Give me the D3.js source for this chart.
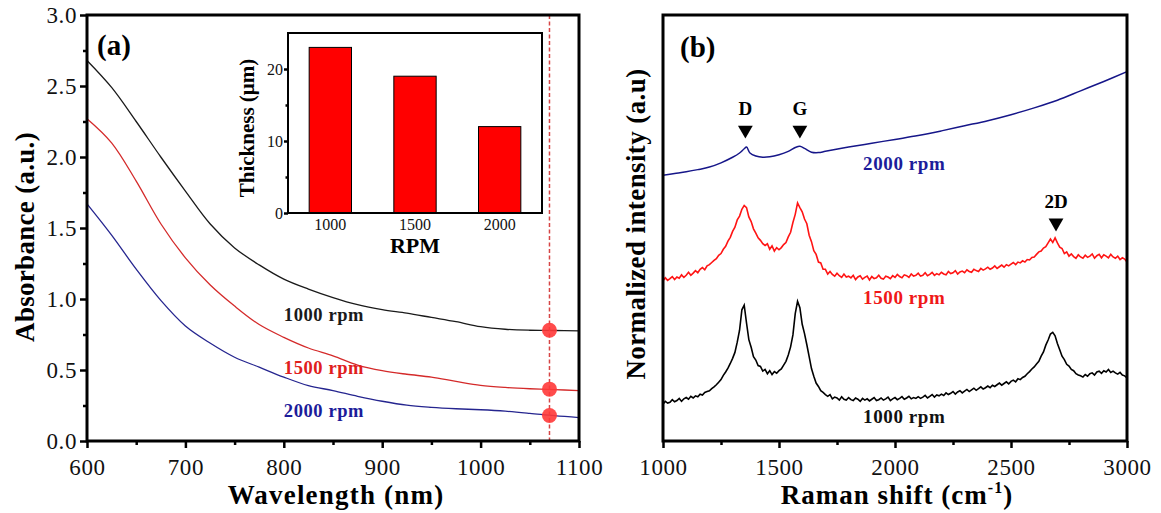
<!DOCTYPE html>
<html>
<head>
<meta charset="utf-8">
<script src="https://cdn.jsdelivr.net/npm/d3@7/dist/d3.min.js"></script>
<style>
body { margin: 0; background: #fff; }
svg { display: block; font-family: "Liberation Serif", "Times New Roman", serif; }
</style>
</head>
<body>
<script>
/** panel (a): absorbance spectra **/
var wavelength = [600, 625, 650, 675, 700, 725, 750, 775, 800, 825, 850, 875, 900, 925, 950, 975, 1000, 1025, 1050, 1075, 1100];
var abs1000 = [2.68, 2.49, 2.25, 2.00, 1.76, 1.53, 1.36, 1.24, 1.14, 1.07, 1.01, 0.96, 0.925, 0.90, 0.87, 0.84, 0.805, 0.787, 0.78, 0.778, 0.775];
var abs1500 = [2.27, 2.10, 1.83, 1.53, 1.29, 1.10, 0.95, 0.82, 0.73, 0.655, 0.60, 0.535, 0.495, 0.47, 0.45, 0.42, 0.392, 0.377, 0.368, 0.362, 0.355];
var abs2000 = [1.67, 1.45, 1.21, 0.99, 0.81, 0.69, 0.59, 0.52, 0.45, 0.39, 0.355, 0.315, 0.28, 0.252, 0.237, 0.227, 0.22, 0.21, 0.195, 0.178, 0.165];
var markerWavelength = 1070;
var markerAbs = [0.78, 0.365, 0.18];

/** inset: film thickness **/
var rpm = ["1000", "1500", "2000"];
var thickness = [23, 19, 12];

/** panel (b): raman spectra, sampled every 10 cm-1 from 1000 **/
var ramanStart = 1000, ramanStep = 10;
var raman1500 = [
  37.6, 38.3, 37.7, 38.1, 38.6, 37.9, 38.5, 38.2, 39.0, 38.4,
  38.9, 39.6, 38.9, 39.4, 40.0, 39.5, 40.3, 40.7, 40.2, 41.1,
  41.4, 41.9, 42.4, 42.8, 43.6, 44.0, 45.0, 45.7, 46.9, 47.8,
  49.2, 50.2, 51.9, 52.8, 54.4, 55.3, 54.8, 52.6, 51.5, 49.8,
  48.8, 47.7, 47.1, 46.3, 45.9, 46.3, 45.0, 45.8, 44.6, 45.4,
  44.9, 45.4, 46.1, 46.6, 47.9, 49.0, 51.3, 53.2, 55.9, 54.8,
  53.8, 52.1, 51.0, 48.3, 46.8, 44.7, 43.8, 42.0, 41.8, 40.3,
  40.3, 39.2, 39.8, 39.1, 38.7, 39.4, 38.8, 38.4, 39.2, 38.5,
  38.7, 38.3, 38.9, 37.9, 38.5, 38.8, 38.0, 38.4, 38.7, 37.8,
  38.6, 38.1, 38.3, 38.9, 38.2, 38.0, 38.7, 38.5, 38.1, 38.8,
  38.4, 39.1, 38.6, 38.3, 39.0, 38.8, 38.4, 39.2, 38.7, 38.9,
  39.4, 38.7, 38.9, 39.5, 38.8, 39.1, 39.6, 38.9, 39.3, 39.0,
  39.6, 39.2, 39.0, 39.8, 39.3, 39.5, 40.0, 39.2, 39.7, 39.9,
  39.5, 40.2, 39.8, 39.6, 40.3, 40.0, 39.8, 40.5, 40.1, 40.4,
  40.8, 40.3, 40.6, 41.1, 40.5, 40.9, 41.3, 40.8, 41.4, 41.1,
  41.5, 41.9, 41.4, 42.0, 41.8, 42.3, 42.0, 42.6, 42.5, 43.1,
  43.2, 43.8, 44.4, 44.6, 45.3, 45.6, 46.5, 47.4, 46.6, 47.7,
  46.5, 45.5, 45.2, 44.0, 44.4, 43.4, 43.9, 43.3, 42.9, 43.7,
  43.2, 42.9, 43.6, 43.1, 43.4, 43.9, 42.9, 43.5, 43.8, 43.0,
  43.7, 43.4, 43.0, 43.8, 43.2, 42.9, 43.4, 42.6, 43.0, 42.7,
  42.0
];
var raman1000 = [
  8.6, 9.3, 8.9, 9.1, 9.7, 9.2, 9.5, 10.0, 9.3, 9.9,
  10.2, 9.8, 10.5, 10.1, 10.6, 10.4, 11.0, 10.8, 11.4, 11.6,
  11.8, 12.3, 12.7, 13.2, 13.8, 14.4, 15.4, 16.2, 17.1, 18.2,
  19.4, 20.8, 23.2, 26.0, 30.8, 31.9, 27.7, 23.8, 22.0, 19.8,
  19.0, 17.7, 17.5, 16.4, 16.8, 15.8, 16.5, 15.6, 16.3, 15.9,
  16.5, 16.9, 17.8, 18.7, 20.2, 22.1, 24.9, 29.9, 32.8, 31.3,
  27.4, 25.2, 22.6, 19.8, 17.0, 15.2, 13.6, 12.8, 11.8, 11.4,
  10.9, 10.5, 10.9, 9.9, 10.3, 10.1, 9.6, 10.4, 9.8, 9.6,
  10.2, 9.7, 9.5, 10.1, 9.8, 9.3, 10.0, 9.6, 9.9, 9.4,
  9.8, 10.2, 9.5, 9.7, 10.1, 9.6, 9.9, 10.3, 9.5, 9.9,
  10.2, 9.7, 10.0, 10.4, 9.8, 10.1, 10.5, 9.9, 10.2, 10.0,
  10.4, 10.0, 10.3, 10.7, 10.1, 10.5, 10.9, 10.3, 10.8, 10.6,
  11.0, 10.7, 11.3, 10.9, 11.2, 11.6, 11.0, 11.5, 11.8, 11.3,
  11.7, 12.1, 11.6, 12.0, 12.4, 11.9, 12.3, 12.7, 12.2, 12.5,
  12.9, 12.5, 13.1, 12.8, 13.2, 13.6, 13.1, 13.5, 13.9, 13.4,
  14.0, 14.3, 13.9, 14.6, 14.4, 14.9, 15.2, 15.8, 16.3, 16.9,
  17.4, 18.1, 18.7, 19.9, 20.9, 22.5, 23.7, 25.1, 25.5, 24.7,
  22.9, 21.4, 19.9, 19.1, 18.0, 17.6, 16.8, 16.5, 15.8, 15.5,
  15.3, 15.0, 15.6, 15.2, 15.8, 16.0, 15.5, 16.2, 16.4, 15.9,
  16.5, 16.2, 16.8, 16.1, 16.4, 16.0, 15.7, 16.1, 15.5, 15.3,
  14.8
];
var raman2000 = [[1000, 62.4], [1050, 62.8], [1100, 63.2], [1150, 63.7], [1200, 64.3], [1250, 65.3],
  [1300, 66.6], [1330, 67.6], [1350, 68.6], [1360, 69.0], [1375, 67.6], [1400, 66.9], [1430, 66.6],
  [1460, 66.7], [1500, 67.2], [1540, 68.0], [1570, 68.9], [1590, 69.2], [1610, 68.7], [1640, 67.8],
  [1670, 67.7], [1700, 68.0], [1800, 69.0], [1900, 69.9], [2000, 70.8], [2100, 71.7], [2200, 72.8],
  [2300, 74.0], [2400, 75.2], [2500, 76.6], [2600, 78.2], [2700, 80.0], [2800, 82.2], [2900, 84.4], [3000, 86.7]];
var peakNames = ["D", "G", "2D"];
var peakShift = [1355, 1590, 2694];
var peakLevel = [73, 73, 51.2];

var width = 1161, height = 513;
var svg = d3.select("body").append("svg").attr("width", width).attr("height", height);

var colA = { "1000": "#1a1a1a", "1500": "#d42a2a", "2000": "#25258f" };
var colB = { "1000": "#000000", "1500": "#ff1414", "2000": "#161689" };

/** helpers **/
function styleAxis(g, size) {
    g.select(".domain").remove();
    g.selectAll("line").attr("stroke", "#000").attr("stroke-width", 2.5);
    g.selectAll("text").attr("font-size", size).attr("font-family", "Liberation Serif, serif")
        .attr("fill", "#111").attr("letter-spacing", size > 20 ? 0.6 : 0);
}

function frame(x0, y0, x1, y1, sw) {
    svg.append("rect").attr("x", x0).attr("y", y0).attr("width", x1 - x0).attr("height", y1 - y0)
        .attr("fill", "none").attr("stroke", "#000").attr("stroke-width", sw);
}

/** panel (a) **/
var xA = d3.scaleLinear().domain([600, 1100]).range([87, 579]);
var yA = d3.scaleLinear().domain([0, 3]).range([441, 15]);

svg.append("g").attr("transform", "translate(0,441)")
    .call(d3.axisBottom(xA).tickValues([650, 750, 850, 950, 1050]).tickSize(4).tickFormat(""))
    .call(styleAxis, 23);
svg.append("g").attr("transform", "translate(0,441)")
    .call(d3.axisBottom(xA).tickValues([600, 700, 800, 900, 1000, 1100]).tickSize(7).tickPadding(11).tickFormat(d3.format("d")))
    .call(styleAxis, 23);
svg.append("g").attr("transform", "translate(87,0)")
    .call(d3.axisLeft(yA).tickValues([0.25, 0.75, 1.25, 1.75, 2.25, 2.75]).tickSize(4).tickFormat(""))
    .call(styleAxis, 23);
svg.append("g").attr("transform", "translate(87,0)")
    .call(d3.axisLeft(yA).tickValues([0, 0.5, 1, 1.5, 2, 2.5, 3]).tickSize(7).tickPadding(3).tickFormat(d3.format(".1f")))
    .call(styleAxis, 23);

var lineA = d3.line().x((d, i) => xA(wavelength[i])).y(d => yA(d)).curve(d3.curveCatmullRom);
[["1000", abs1000], ["1500", abs1500], ["2000", abs2000]].forEach(s => {
    svg.append("path").attr("d", lineA(s[1])).attr("fill", "none")
        .attr("stroke", colA[s[0]]).attr("stroke-width", 1.3);
});

svg.append("line").attr("x1", xA(markerWavelength)).attr("x2", xA(markerWavelength))
    .attr("y1", yA(3)).attr("y2", yA(0))
    .attr("stroke", "#d64545").attr("stroke-width", 1.5).attr("stroke-dasharray", "4,2.5");
svg.selectAll("circle.mark").data(markerAbs).enter().append("circle").attr("class", "mark")
    .attr("cx", xA(markerWavelength)).attr("cy", d => yA(d)).attr("r", 7.5)
    .attr("fill", "#ff3838").attr("fill-opacity", 0.9);

var labelsA = [["1000 rpm", 0.845, colA["1000"]], ["1500 rpm", 0.47, "#e0201c"], ["2000 rpm", 0.17, "#1c1c9a"]];
svg.selectAll("text.la").data(labelsA).enter().append("text").attr("class", "la")
    .attr("x", xA(800)).attr("y", d => yA(d[1])).attr("fill", d => d[2])
    .attr("font-size", 18.5).attr("font-weight", "bold").attr("letter-spacing", 0.6).text(d => d[0]);

frame(87, 15, 579, 441, 3);

svg.append("text").attr("x", 97).attr("y", 55).attr("font-size", 29).attr("font-weight", "bold").text("(a)");
svg.append("text").attr("x", 336).attr("y", 504).attr("text-anchor", "middle")
    .attr("font-size", 27).attr("font-weight", "bold").attr("letter-spacing", 1.2).text("Wavelength (nm)");
svg.append("text").attr("transform", "translate(34,237) rotate(-90)").attr("text-anchor", "middle")
    .attr("font-size", 27).attr("font-weight", "bold").attr("letter-spacing", 0.3).text("Absorbance (a.u.)");

/** inset **/
var xI = d3.scaleBand().domain(rpm).range([288, 542]).paddingInner(0.5).paddingOuter(0.25);
var yI = d3.scaleLinear().domain([0, 25]).range([213, 33]);

svg.append("rect").attr("x", 288).attr("y", 33).attr("width", 254).attr("height", 180).attr("fill", "#fff");
svg.selectAll("rect.bar").data(thickness).enter().append("rect").attr("class", "bar")
    .attr("x", (d, i) => xI(rpm[i])).attr("width", xI.bandwidth())
    .attr("y", d => yI(d)).attr("height", d => yI(0) - yI(d))
    .attr("fill", "#ff0000").attr("stroke", "#000").attr("stroke-width", 1);

svg.append("g").attr("transform", "translate(288,0)")
    .call(d3.axisLeft(yI).tickValues([5, 15]).tickSize(2.5).tickFormat(""))
    .call(styleAxis, 16);
svg.append("g").attr("transform", "translate(288,0)")
    .call(d3.axisLeft(yI).tickValues([0, 10, 20]).tickSize(4).tickPadding(1))
    .call(styleAxis, 16);
svg.selectAll("text.xi").data(rpm).enter().append("text").attr("class", "xi")
    .attr("x", d => xI(d) + xI.bandwidth() / 2).attr("y", 230).attr("text-anchor", "middle")
    .attr("font-size", 16).attr("fill", "#111").text(d => d);
frame(288, 33, 542, 213, 2);

svg.append("text").attr("x", 415).attr("y", 253).attr("text-anchor", "middle")
    .attr("font-size", 22).attr("font-weight", "bold").text("RPM");
svg.append("text").attr("transform", "translate(254,128) rotate(-90)").attr("text-anchor", "middle")
    .attr("font-size", 21).attr("font-weight", "bold").text("Thickness (\u03bcm)");

/** panel (b) **/
var xB = d3.scaleLinear().domain([1000, 3000]).range([663, 1127]);
var yB = d3.scaleLinear().domain([0, 100]).range([441, 15]);

svg.append("g").attr("transform", "translate(0,441)")
    .call(d3.axisBottom(xB).tickValues([1250, 1750, 2250, 2750]).tickSize(4).tickFormat(""))
    .call(styleAxis, 23);
svg.append("g").attr("transform", "translate(0,441)")
    .call(d3.axisBottom(xB).tickValues([1000, 1500, 2000, 2500, 3000]).tickSize(7).tickPadding(11).tickFormat(d3.format("d")))
    .call(styleAxis, 23);

var lineB = d3.line().x((d, i) => xB(ramanStart + i * ramanStep)).y(d => yB(d));
svg.append("path").attr("d", lineB(raman1500)).attr("fill", "none").attr("stroke", colB["1500"]).attr("stroke-width", 1.6);
svg.append("path").attr("d", lineB(raman1000)).attr("fill", "none").attr("stroke", colB["1000"]).attr("stroke-width", 1.6);
svg.append("path").attr("d", d3.line().x(d => xB(d[0])).y(d => yB(d[1])).curve(d3.curveCatmullRom)(raman2000))
    .attr("fill", "none").attr("stroke", colB["2000"]).attr("stroke-width", 1.5);

// peak markers
var tri = d3.symbol().type(d3.symbolTriangle).size(95);
peakNames.forEach((p, i) => {
    var px = xB(peakShift[i]), py = yB(peakLevel[i]);
    svg.append("path").attr("d", tri()).attr("transform", "translate(" + px + "," + py + ") rotate(180)").attr("fill", "#000");
    svg.append("text").attr("x", px).attr("y", py - 15).attr("text-anchor", "middle")
        .attr("font-size", 19).attr("font-weight", "bold").text(p);
});

var labelsB = [["2000 rpm", 63.6, "#1c1c9a"], ["1500 rpm", 32.2, "#f01818"], ["1000 rpm", 4.2, "#111"]];
svg.selectAll("text.lb").data(labelsB).enter().append("text").attr("class", "lb")
    .attr("x", xB(2040)).attr("y", d => yB(d[1])).attr("text-anchor", "middle").attr("fill", d => d[2])
    .attr("font-size", 19).attr("font-weight", "bold").attr("letter-spacing", 0.6).text(d => d[0]);

frame(663, 15, 1127, 441, 3);

svg.append("text").attr("x", 680).attr("y", 57).attr("font-size", 29).attr("font-weight", "bold").text("(b)");
var tB = svg.append("text").attr("x", 897).attr("y", 504).attr("text-anchor", "middle")
    .attr("font-size", 27).attr("font-weight", "bold").attr("letter-spacing", 1.0);
tB.append("tspan").text("Raman shift (cm");
tB.append("tspan").attr("font-size", 16).attr("dy", -11).text("-1");
tB.append("tspan").attr("dy", 11).text(")");
svg.append("text").attr("transform", "translate(645,224) rotate(-90)").attr("text-anchor", "middle")
    .attr("font-size", 27).attr("font-weight", "bold").attr("letter-spacing", 0.4).text("Normalized intensity (a.u)");
</script>
</body>
</html>
